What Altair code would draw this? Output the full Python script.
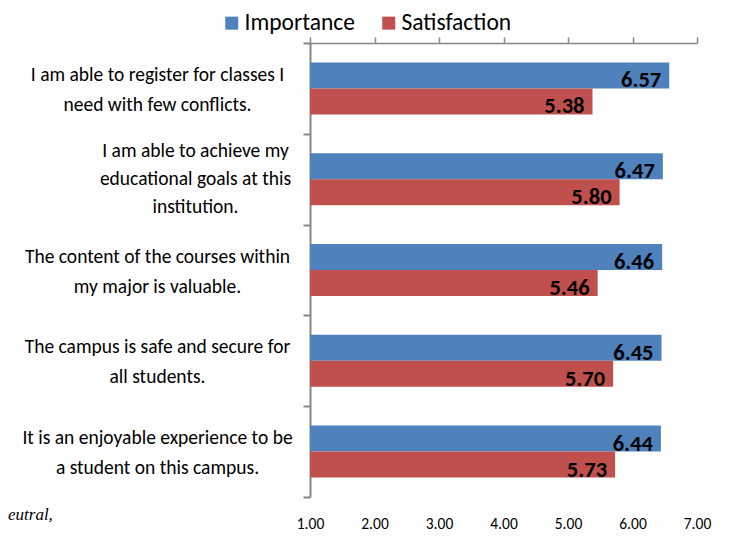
import altair as alt
import pandas as pd

questions = [
    "I am able to register for classes I|need with few conflicts.",
    "I am able to achieve my|educational goals at this|institution.",
    "The content of the courses within|my major is valuable.",
    "The campus is safe and secure for|all students.",
    "It is an enjoyable experience to be|a student on this campus.",
]
series = ["Importance", "Satisfaction"]
importance = [6.57, 6.47, 6.46, 6.45, 6.44]
satisfaction = [5.38, 5.80, 5.46, 5.70, 5.73]
x_ticks = [1, 2, 3, 4, 5, 6, 7]
colors = ["#4F81BD", "#C0504D"]

rows = []
for q, i, s in zip(questions, importance, satisfaction):
    rows.append({"question": q, "series": series[0], "value": i})
    rows.append({"question": q, "series": series[1], "value": s})
df = pd.DataFrame(rows)

FONT = "Carlito, Lato, sans-serif"
GREY = "#868686"
special = questions[1]

y_scale = alt.Scale(paddingInner=0, paddingOuter=0)
yoff = alt.YOffset("series:N", sort=series,
                   scale=alt.Scale(paddingInner=0, paddingOuter=0.746))
x_scale = alt.Scale(domain=[1, 7], nice=False, zero=False)

base = alt.Chart(df)

bars = base.mark_bar().encode(
    y=alt.Y("question:N", sort=questions, scale=y_scale, axis=alt.Axis(
        orient="left", title=None, domainColor=GREY, domainWidth=2,
        tickColor=GREY, tickWidth=2, tickSize=7, tickBand="extent",
        labelExpr=(f"!isValid(datum.value) || datum.value == '{special}'"
                   " ? '' : split(datum.value, '|')"),
        labelAlign="center", labelBaseline="middle", labelPadding=146,
        labelOffset=-14, labelLineHeight=30, labelFont=FONT,
        labelFontSize=19.5, labelColor="#000000", labelLimit=0)),
    yOffset=yoff,
    x=alt.X("value:Q", scale=x_scale, axis=alt.Axis(
        orient="top", title=None, labels=False, grid=False, values=x_ticks,
        domainColor=GREY, domainWidth=1.5, tickColor=GREY, tickWidth=1.5,
        tickSize=6)),
    x2=alt.datum(1),
    color=alt.Color("series:N", sort=series,
                    scale=alt.Scale(domain=series, range=colors),
                    legend=alt.Legend(
                        orient="none", legendX=-90, legendY=-32,
                        direction="horizontal", title=None,
                        symbolType="square", symbolSize=169,
                        symbolStrokeWidth=0, labelFont=FONT,
                        labelFontSize=23.5, labelColor="#000000",
                        labelOffset=1, columnPadding=22, padding=0)),
)

labels = base.mark_text(
    align="right", baseline="alphabetic", dx=-8, dy=12,
    font=FONT, fontSize=22.5, fontWeight="bold", color="#000000",
).encode(
    y=alt.Y("question:N", sort=questions, scale=y_scale, axis=alt.Axis(
        orient="left", title=None, domain=False, ticks=False, tickSize=0,
        labelExpr=(f"isValid(datum.value) && datum.value == '{special}'"
                   " ? split(datum.value, '|') : ''"),
        labelAlign="center", labelBaseline="middle", labelPadding=115,
        labelOffset=-28, labelLineHeight=28, labelFont=FONT,
        labelFontSize=19.5, labelColor="#000000", labelLimit=0)),
    yOffset=yoff,
    x=alt.X("value:Q", scale=x_scale, axis=alt.Axis(
        orient="bottom", title=None, domain=False, ticks=False, grid=False,
        values=x_ticks, format=".2f", labelPadding=19, labelFont=FONT,
        labelFontSize=15.5, labelColor="#000000", labelFlush=False,
        labelOverlap=False, labelBound=False)),
    text=alt.Text("value:Q", format=".2f"),
)

chart = alt.layer(bars, labels).resolve_axis(
    x="independent", y="independent"
).properties(
    width=387, height=454,
    autosize=alt.AutoSizeParams(type="none"),
    padding={"left": 302, "top": 35, "right": 20, "bottom": 36},
    title=alt.TitleParams(
        "eutral,", orient="bottom", anchor="start", frame="group",
        font="Liberation Serif", fontStyle="italic", fontSize=17,
        fontWeight="normal", color="#000000", dx=-302, dy=-29),
).configure_view(stroke=None)

chart.save("out.html", embed_options={"renderer": "svg", "actions": False})
